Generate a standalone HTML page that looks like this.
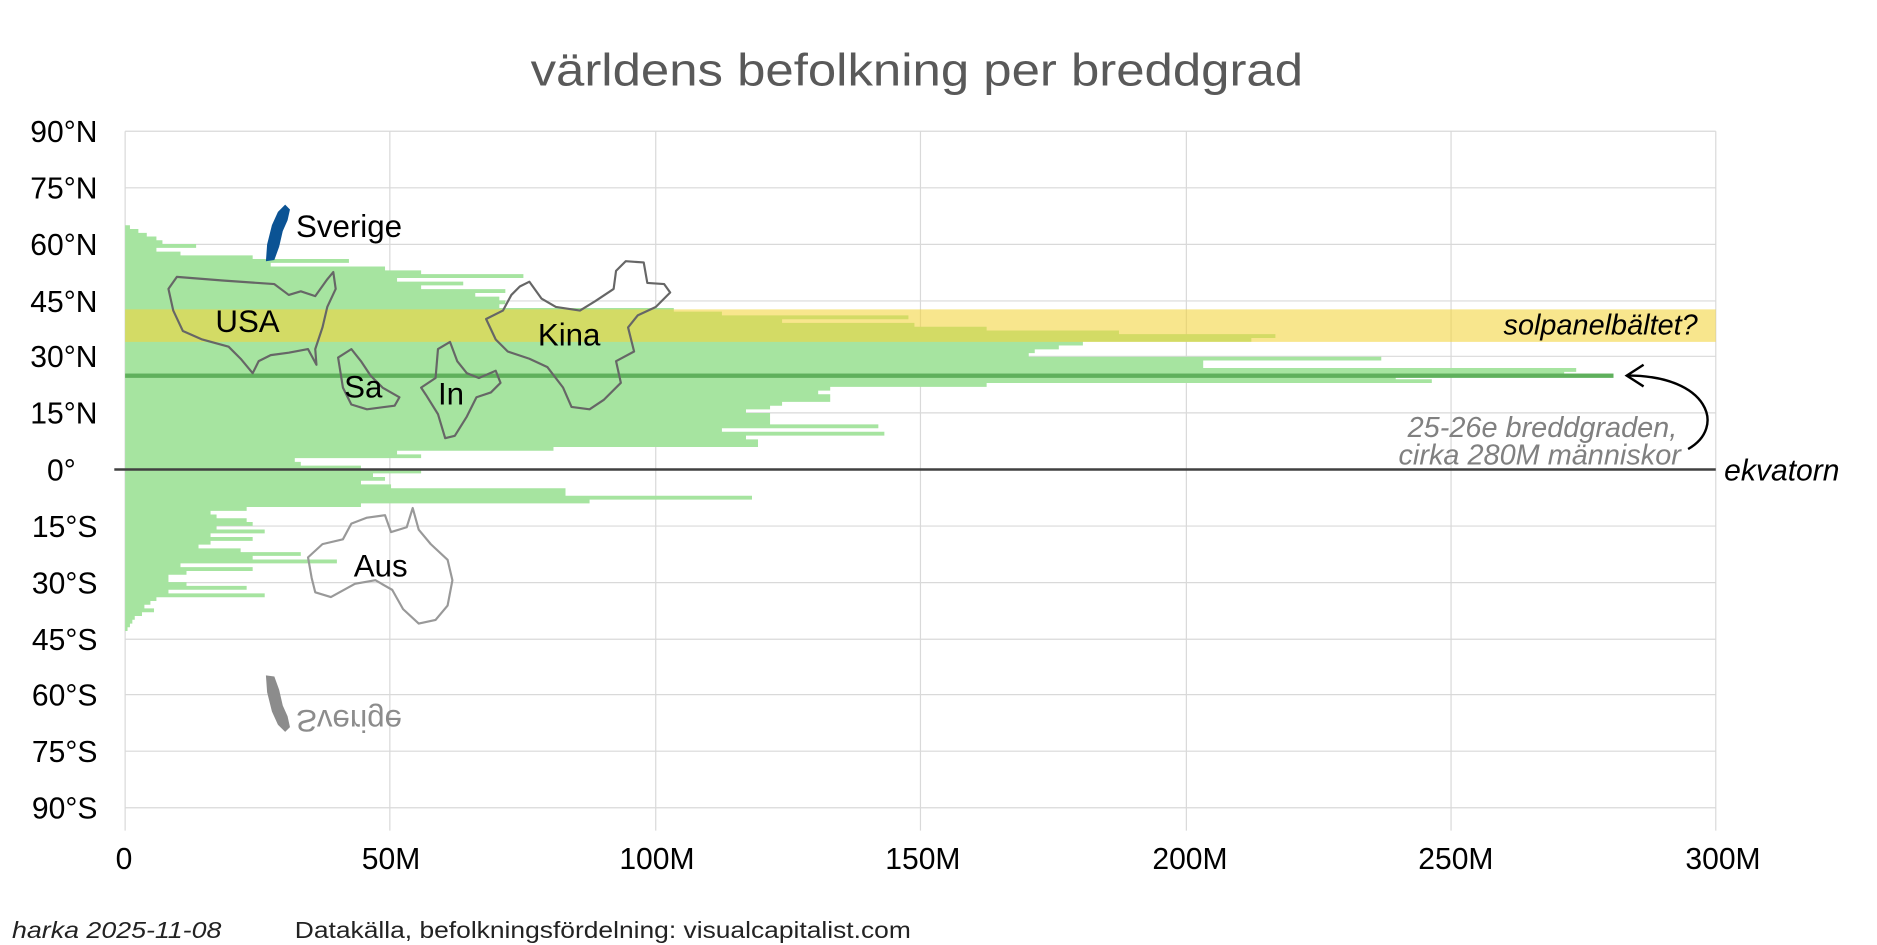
<!DOCTYPE html>
<html><head><meta charset="utf-8"><style>
html,body{margin:0;padding:0;background:#fff;}
svg{display:block;}
text{font-family:"Liberation Sans",sans-serif;}
</style></head><body>
<svg width="1877" height="945" viewBox="0 0 1560 785" preserveAspectRatio="none" xmlns="http://www.w3.org/2000/svg">
<rect width="1560" height="785" fill="#fff"/>
<text x="762" y="71" text-anchor="middle" font-size="38" fill="#595959" textLength="642" lengthAdjust="spacingAndGlyphs">världens befolkning per breddgrad</text>
<!-- grid -->
<g stroke="#d9d9d9" stroke-width="1">
<line x1="104" y1="109" x2="1426" y2="109"/><line x1="104" y1="156" x2="1426" y2="156"/><line x1="104" y1="203" x2="1426" y2="203"/><line x1="104" y1="250" x2="1426" y2="250"/><line x1="104" y1="296" x2="1426" y2="296"/><line x1="104" y1="343" x2="1426" y2="343"/>
<line x1="104" y1="437" x2="1426" y2="437"/><line x1="104" y1="484" x2="1426" y2="484"/><line x1="104" y1="531" x2="1426" y2="531"/><line x1="104" y1="577" x2="1426" y2="577"/><line x1="104" y1="624" x2="1426" y2="624"/><line x1="104" y1="671" x2="1426" y2="671"/>
<line x1="104" y1="109" x2="104" y2="690"/><line x1="324" y1="109" x2="324" y2="690"/><line x1="545" y1="109" x2="545" y2="690"/><line x1="765" y1="109" x2="765" y2="690"/><line x1="986" y1="109" x2="986" y2="690"/><line x1="1206" y1="109" x2="1206" y2="690"/><line x1="1426" y1="109" x2="1426" y2="690"/>
</g>
<!-- bars -->
<path fill="#a6e4a0" d="
M104,187.1H108V190.3H104Z M104,190.2H115V193.4H104Z M104,193.4H122V196.6H104Z M104,196.5H130V199.7H104Z M104,199.6H135V202.8H104Z
M104,202.7H163V205.9H104Z M104,205.8H130V209H104Z M104,209H150V212.2H104Z M104,212.1H210V215.3H104Z M104,215.2H290V218.4H104Z
M104,218.3H225V221.5H104Z M104,221.4H320V224.6H104Z M104,224.6H350V227.8H104Z M104,227.7H435V230.9H104Z M104,230.8H330V234H104Z
M104,233.9H385V237.1H104Z M104,237H350V240.2H104Z M104,240.2H420V243.4H104Z M104,243.3H395V246.5H104Z M104,246.4H415V249.6H104Z
M104,249.5H420V252.7H104Z M104,252.6H415V255.8H104Z M104,255.8H560V259H104Z M104,258.9H600V262.1H104Z M104,262H755V265.2H104Z
M104,265.1H650V268.3H104Z M104,268.2H760V271.4H104Z M104,271.4H820V274.6H104Z M104,274.5H930V277.7H104Z M104,277.6H1060V280.8H104Z
M104,280.7H1040V283.9H104Z M104,283.8H900V287H104Z M104,287H880V290.2H104Z M104,290.1H860V293.3H104Z M104,293.2H855V296.4H104Z
M104,296.3H1148V299.5H104Z M104,299.4H1000V302.6H104Z M104,302.6H1000V305.8H104Z M104,305.7H1310V308.9H104Z M104,308.8H1300V312H104Z
M104,311.9H1160V315.1H104Z M104,315H1190V318.2H104Z M104,318.2H820V321.4H104Z M104,321.3H690V324.5H104Z M104,324.4H680V327.6H104Z
M104,327.5H690V330.7H104Z M104,330.6H690V333.8H104Z M104,333.8H650V337H104Z M104,336.9H640V340.1H104Z M104,340H620V343.2H104Z
M104,343.1H640V346.3H104Z M104,346.2H640V349.4H104Z M104,349.4H640V352.6H104Z M104,352.5H730V355.7H104Z M104,355.6H600V358.8H104Z
M104,358.7H735V361.9H104Z M104,361.8H620V365H104Z M104,365H630V368.2H104Z M104,368.1H630V371.3H104Z M104,371.2H460V374.4H104Z
M104,374.3H330V377.5H104Z M104,377.4H350V380.6H104Z M104,380.6H245V383.8H104Z M104,383.7H250V386.9H104Z M104,386.8H300V390H104Z
M104,390H350V393.2H104Z M104,393.1H310V396.3H104Z M104,396.2H320V399.4H104Z M104,399.3H300V402.5H104Z M104,402.4H325V405.6H104Z
M104,405.6H470V408.8H104Z M104,408.7H470V411.9H104Z M104,411.8H625V415H104Z M104,414.9H490V418.1H104Z M104,418H300V421.2H104Z
M104,421.2H205V424.4H104Z M104,424.3H175V427.5H104Z M104,427.4H180V430.6H104Z M104,430.5H205V433.7H104Z M104,433.6H210V436.8H104Z
M104,436.8H180V440H104Z M104,439.9H220V443.1H104Z M104,443H175V446.2H104Z M104,446.1H210V449.3H104Z M104,449.2H175V452.4H104Z
M104,452.4H165V455.6H104Z M104,455.5H200V458.7H104Z M104,458.6H250V461.8H104Z M104,461.7H210V464.9H104Z M104,464.8H280V468H104Z
M104,468H150V471.2H104Z M104,471.1H210V474.3H104Z M104,474.2H155V477.4H104Z M104,477.3H140V480.5H104Z M104,480.4H140V483.6H104Z
M104,483.6H155V486.8H104Z M104,486.7H205V489.9H104Z M104,489.8H140V493H104Z M104,492.9H220V496.1H104Z M104,496H130V499.2H104Z
M104,499.2H125V502.4H104Z M104,502.3H120V505.5H104Z M104,505.4H128V508.6H104Z M104,508.5H118V511.7H104Z M104,511.6H112V514.8H104Z
M104,514.8H110V518H104Z M104,517.9H108V521.1H104Z M104,521H106V524.2H104Z"/>
<rect x="104" y="310.3" width="1237" height="3.6" fill="#5fb05c"/>
<!-- solar band -->
<rect x="104" y="257" width="1322" height="27" fill="#f3d43a" fill-opacity="0.58"/>
<!-- equator -->
<line x1="95" y1="390" x2="1426" y2="390" stroke="#404040" stroke-width="2"/>
<!-- maps -->
<g fill="none" stroke="#666" stroke-width="1.8" stroke-linejoin="round">
<path d="M147,230 L185,233 L228,236 L240,245 L250,242 L262,246 L272,232 L277,226 L279,240 L272,255 L268,272 L262,290 L263,303 L256,290 L240,293 L225,295 L215,300 L210,310 L200,298 L190,288 L168,282 L152,275 L144,258 L140,240 Z"/>
<path d="M404,265 L418,258 L425,245 L432,238 L440,234 L450,248 L462,255 L482,258 L495,250 L510,240 L512,225 L520,217 L535,218 L538,235 L552,236 L557,243 L545,255 L530,262 L522,272 L527,292 L512,300 L516,318 L502,332 L490,340 L475,338 L468,322 L455,305 L440,298 L422,292 L412,282 Z"/>
<path d="M281,297 L292,290 L300,300 L308,312 L318,322 L332,330 L328,337 L305,340 L292,336 L285,322 Z"/>
<path d="M364,290 L374,284 L380,300 L388,310 L398,314 L412,308 L416,318 L408,326 L396,330 L388,346 L378,362 L370,364 L364,344 L354,328 L350,322 L362,314 Z"/>
</g>
<path fill="none" stroke="#999" stroke-width="1.8" stroke-linejoin="round" d="M256,463 L268,452 L285,448 L292,435 L305,430 L320,428 L325,442 L338,438 L343,422 L348,440 L358,452 L372,465 L376,482 L372,503 L362,515 L348,518 L335,506 L326,490 L312,482 L295,485 L275,496 L262,492 L259,480 Z"/>
<path fill="#0b5394" d="M221,217 L222,203 L226,187 L231,176 L237,170 L241,174 L239,183 L235,192 L232,205 L228,216 Z"/>
<path fill="#8c8c8c" d="M221,561 L222,575 L226,591 L231,602 L237,608 L241,604 L239,595 L235,586 L232,573 L228,562 Z"/>
<!-- labels -->
<g font-size="26" fill="#000">
<text x="246" y="197">Sverige</text>
<text x="179" y="276">USA</text>
<text x="447" y="287">Kina</text>
<text x="286" y="330">Sa</text>
<text x="364" y="336">In</text>
<text x="294" y="479">Aus</text>
</g>
<text x="246" y="-580" font-size="26" fill="#8c8c8c" transform="scale(1,-1)" dy="-10">Sverige</text>
<text x="1411" y="278" font-size="24" font-style="italic" text-anchor="end">solpanelbältet?</text>
<text x="1394" y="363" font-size="24" font-style="italic" text-anchor="end" fill="#808080">25-26e breddgraden,</text>
<text x="1397" y="386" font-size="24" font-style="italic" text-anchor="end" fill="#808080">cirka 280M människor</text>
<text x="1433" y="399" font-size="25" font-style="italic">ekvatorn</text>
<path d="M1403,373 C1435,355 1420,312 1353,312" fill="none" stroke="#000" stroke-width="2"/>
<path d="M1366,303 L1352,312 L1366,321" fill="none" stroke="#000" stroke-width="2"/>
<!-- y axis labels -->
<g font-size="25" fill="#000" text-anchor="end">
<text x="81" y="118">90°N</text><text x="81" y="165">75°N</text><text x="81" y="212">60°N</text><text x="81" y="259">45°N</text><text x="81" y="305">30°N</text><text x="81" y="352">15°N</text>
<text x="63" y="399">0°</text>
<text x="81" y="446">15°S</text><text x="81" y="493">30°S</text><text x="81" y="540">45°S</text><text x="81" y="586">60°S</text><text x="81" y="633">75°S</text><text x="81" y="680">90°S</text>
</g>
<g font-size="25" fill="#000" text-anchor="middle">
<text x="103" y="722">0</text><text x="325" y="722">50M</text><text x="546" y="722">100M</text><text x="767" y="722">150M</text><text x="989" y="722">200M</text><text x="1210" y="722">250M</text><text x="1432" y="722">300M</text>
</g>
<text x="10" y="779" font-size="19" font-style="italic" fill="#222" textLength="174" lengthAdjust="spacingAndGlyphs">harka 2025-11-08</text>
<text x="245" y="779" font-size="19" fill="#222" textLength="512" lengthAdjust="spacingAndGlyphs">Datakälla, befolkningsfördelning: visualcapitalist.com</text>
</svg>
</body></html>
